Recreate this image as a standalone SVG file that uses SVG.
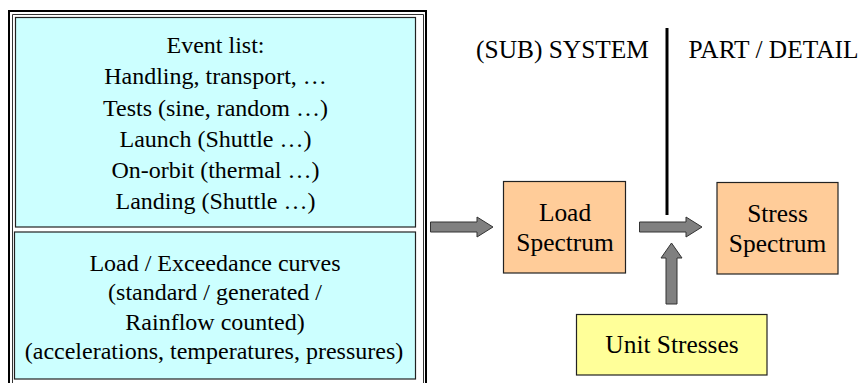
<svg xmlns="http://www.w3.org/2000/svg" width="865" height="383" viewBox="0 0 865 383">
<style>
text{font-family:"Liberation Serif","Tinos","DejaVu Serif","Noto Serif",serif;fill:#000;text-anchor:middle}
.l{font-size:24px}
.r{font-size:25.4px}
.cyan{fill:#CCFFFF;stroke:#222;stroke-width:1.2}
.orange{fill:#FFCC99;stroke:#222;stroke-width:1.2}
.yellow{fill:#FFFF99;stroke:#222;stroke-width:1.2}
.arrow{fill:#808080;stroke:#333;stroke-width:1}
</style>
<rect width="865" height="383" fill="#fff"/>
<g id="frame">
<path d="M9 383V11H426V383" fill="none" stroke="#000" stroke-width="2"/>
<path d="M12.5 383V14.5H423.5V383" fill="none" stroke="#333" stroke-width="1"/>
</g>
<g id="event-list">
<rect class="cyan" x="15.5" y="17.5" width="400" height="209.5"/>
<text class="l" x="215.5" y="53.3">Event list:</text>
<text class="l" x="215.5" y="84.3">Handling, transport, …</text>
<text class="l" x="215.5" y="115.5">Tests (sine, random …)</text>
<text class="l" x="215.5" y="146.5">Launch (Shuttle …)</text>
<text class="l" x="215.5" y="177.5">On-orbit (thermal …)</text>
<text class="l" x="215.5" y="208.5">Landing (Shuttle …)</text>
</g>
<g id="load-curves">
<rect class="cyan" x="14.5" y="232" width="401" height="147"/>
<text class="l" x="215" y="270.7">Load / Exceedance curves</text>
<text class="l" x="215" y="300.3">(standard / generated /</text>
<text class="l" x="215" y="329.8">Rainflow counted)</text>
<text class="l" x="214" y="359.3">(accelerations, temperatures, pressures)</text>
</g>
<g id="labels">
<text class="r" x="562.5" y="58.3">(SUB) SYSTEM</text>
<text class="r" x="773.5" y="58.3">PART / DETAIL</text>
<line x1="667" y1="28" x2="667" y2="215" stroke="#000" stroke-width="3"/>
</g>
<g id="load-spectrum">
<rect class="orange" x="503.5" y="181.5" width="122" height="91.5"/>
<text class="r" x="565" y="220.7">Load</text>
<text class="r" x="565" y="250.7">Spectrum</text>
</g>
<g id="stress-spectrum">
<rect class="orange" x="717" y="182.5" width="121" height="91.5"/>
<text class="r" x="777.5" y="221.7">Stress</text>
<text class="r" x="777.5" y="251.7">Spectrum</text>
</g>
<g id="unit-stresses">
<rect class="yellow" x="576.5" y="314.5" width="190.5" height="60.5"/>
<text class="r" x="672" y="353.3">Unit Stresses</text>
</g>
<g id="connectors">
<polygon class="arrow" points="430.5,222 477,222 477,217 493,227 477,237 477,232 430.5,232"/>
<polygon class="arrow" points="639.5,222 686,222 686,217 702,227 686,237 686,232 639.5,232"/>
<polygon class="arrow" points="666,304 666,258 661,258 671.5,243 682,258 677,258 677,304"/>
</g>
</svg>
